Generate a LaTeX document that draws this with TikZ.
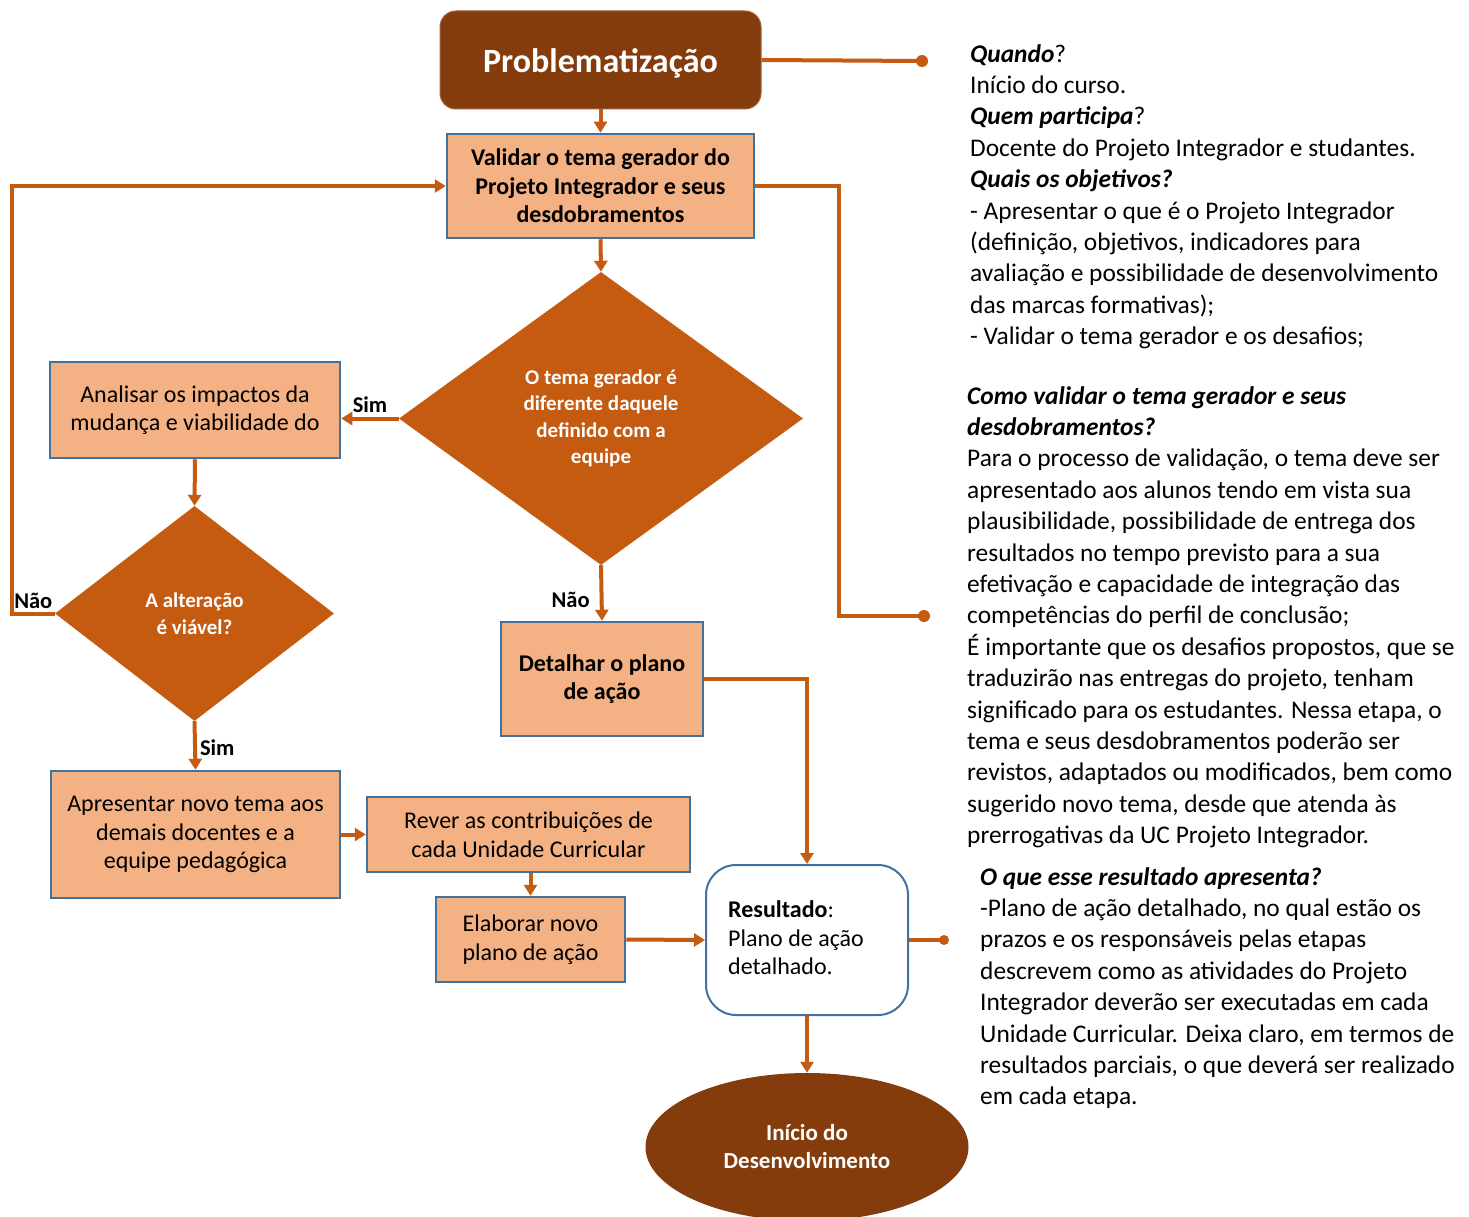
\documentclass[tikz,border=0pt]{standalone}
\usepackage{fontspec}
\setmainfont{Carlito}
\usetikzlibrary{shapes.geometric,arrows.meta}
\definecolor{orng}{HTML}{C55A11}
\definecolor{peach}{HTML}{F4B183}
\definecolor{brwn}{HTML}{843C0C}
\definecolor{bluebd}{HTML}{41719C}
\begin{document}
\begin{tikzpicture}[x=1pt,y=-1pt,
 box/.style={draw=bluebd,line width=2.5pt,fill=peach,inner sep=0pt,align=center,font=\fontsize{24}{28.5}\selectfont},
 boxb/.style={box,font=\fontsize{24}{28.5}\selectfont\bfseries},
 conn/.style={draw=orng,line width=4pt},
 arr/.style={conn,-{Triangle[width=13pt,length=11pt]}},
 dia/.style={diamond,fill=orng,inner sep=0pt,align=center,text=white,font=\fontsize{21}{26.5}\selectfont\bfseries},
 lbl/.style={font=\fontsize{22.5}{26}\selectfont\bfseries,inner sep=0pt},
 body/.style={align=left,inner sep=0pt,anchor=north west,font=\fontsize{25.4}{31.4}\selectfont},
 dot/.style={fill=orng}
]
\useasboundingbox (0,0) rectangle (1469,1217);
\clip (0,0) rectangle (1469,1217);

% nodes
\node[rounded corners=16pt,fill=brwn,draw=brwn!80!white,line width=1pt,minimum width=321pt,minimum height=98pt,text=white,font=\fontsize{34}{40}\selectfont\bfseries] (prob) at (600.5,60) {\raisebox{-3pt}[\height][\depth]{Problematização}};
\node[boxb,minimum width=307pt,minimum height=104pt] (val) at (600.5,186) {Validar o tema gerador do\\Projeto Integrador e seus\\desdobramentos};
\node[dia,minimum width=404pt,minimum height=293pt] (dia1) at (601,418.5) {O tema gerador é\\diferente daquele\\definido com a\\equipe};
\node[box,minimum width=290pt,minimum height=96pt] (ana) at (195,410) {Analisar os impactos da\\mudança e viabilidade do};
\node[dia,minimum width=279pt,minimum height=215pt] (dia2) at (194.5,613.5) {A alteração\\é viável?};
\node[boxb,minimum width=202pt,minimum height=114pt] (det) at (602,679) {Detalhar o plano\\de ação};
\node[box,minimum width=289pt,minimum height=127pt] (apr) at (195.5,834.5) {Apresentar novo tema aos\\demais docentes e a\\equipe pedagógica};
\node[box,minimum width=323pt,minimum height=75pt] (rev) at (528.5,834.5) {Rever as contribuições de\\cada Unidade Curricular};
\node[box,minimum width=189pt,minimum height=85pt] (ela) at (530.5,939.5) {Elaborar novo\\plano de ação};
\node[draw=bluebd,line width=2pt,fill=white,rounded corners=30pt,minimum width=202pt,minimum height=150pt,inner sep=0pt] (res) at (807,940) {};
\node[inner sep=0pt,anchor=west,align=left,font=\fontsize{24}{28.5}\selectfont] (rest) at ([xshift=23pt,yshift=2pt]res.west) {\textbf{Resultado}:\\Plano de ação\\detalhado.};
\node[ellipse,fill=brwn,minimum width=323pt,minimum height=148pt,inner sep=0pt,align=center,text=white,font=\fontsize{23}{28}\selectfont\bfseries] (ell) at (807,1147) {Início do\\Desenvolvimento};

% end points
\coordinate (dv1) at (922,61);
\coordinate (dv2) at (924,616);
\coordinate (dv3) at (944,940);

% connectors
\draw[conn] (prob.east) -- (dv1);
\fill[dot] (dv1) circle (6);
\draw[arr] (prob.south) -- (val.north);
\draw[arr] (val.south) -- (dia1.north);
\draw[arr] (dia1.west) -- (ana.east |- dia1.west) node[lbl,midway,above=4pt] {Sim};
\draw[arr] (ana.south) -- (dia2.north);
\draw[arr] (dia2.west) -- ++(-43,0) node[lbl,midway,above=3pt] {Não} |- (val.west);
\draw[arr] (dia2.south) -- (apr.north) node[lbl,pos=0.55,right=3pt] {Sim};
\draw[arr] (dia1.south) -- (det.north) node[lbl,pos=0.62,left=10pt] {Não};
\draw[conn] (val.east) -- ++(84,0) |- (dv2);
\fill[dot] (dv2) circle (6);
\draw[arr] (det.east) -| (res.north);
\draw[arr] (apr.east) -- (rev.west);
\draw[arr] (ela.north |- rev.south) -- (ela.north);
\draw[arr] (ela.east) -- (res.west);
\draw[conn] (res.east) -- (dv3);
\fill[dot] (dv3) circle (5);
\draw[arr] (res.south) -- (ell.north);

% text blocks
\node[body] (t1) at (970,40) {\strut\textbf{\textit{Quando}}?\\
Início do curso.\\
\textbf{\textit{Quem participa}}?\\
Docente do Projeto Integrador e studantes.\\
\textbf{\textit{Quais os objetivos?}}\\
- Apresentar o que é o Projeto Integrador\\
(definição, objetivos, indicadores para\\
avaliação e possibilidade de desenvolvimento\\
das marcas formativas);\\
- Validar o tema gerador e os desafios;};
\node[body] (t2) at (967,382) {\strut\textbf{\textit{Como validar o tema gerador e seus}}\\
\textbf{\textit{desdobramentos?}}\\
Para o processo de validação, o tema deve ser\\
apresentado aos alunos tendo em vista sua\\
plausibilidade, possibilidade de entrega dos\\
resultados no tempo previsto para a sua\\
efetivação e capacidade de integração das\\
competências do perfil de conclusão;\\
É importante que os desafios propostos, que se\\
traduzirão nas entregas do projeto, tenham\\
significado para os estudantes. Nessa etapa, o\\
tema e seus desdobramentos poderão ser\\
revistos, adaptados ou modificados, bem como\\
sugerido novo tema, desde que atenda às\\
prerrogativas da UC Projeto Integrador.};
\node[body] (t3) at (980,863) {\strut\textbf{\textit{O que esse resultado apresenta?}}\\
-Plano de ação detalhado, no qual estão os\\
prazos e os responsáveis pelas etapas\\
descrevem como as atividades do Projeto\\
Integrador deverão ser executadas em cada\\
Unidade Curricular. Deixa claro, em termos de\\
resultados parciais, o que deverá ser realizado\\
em cada etapa.};
\end{tikzpicture}
\end{document}
